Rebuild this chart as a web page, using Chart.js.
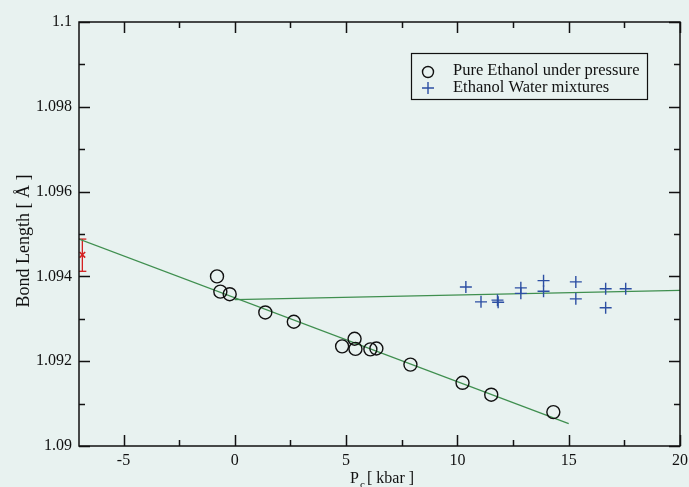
<!DOCTYPE html>
<html>
<head>
<meta charset="utf-8">
<script src="https://cdn.jsdelivr.net/npm/chart.js@4"></script>
<style>
  body { margin: 0; background: #e8f2f0; }
  canvas { display: block; }
</style>
</head>
<body>
<canvas id="bondChart" width="689" height="487"></canvas>
<script>
// Pure ethanol under pressure
const purePressure = [-0.80, -0.65, -0.23, 1.37, 2.65, 4.82, 5.38, 5.42, 6.09, 6.36, 7.89, 10.23, 11.52, 14.31];
const pureLength = [1.09400, 1.09364, 1.09358, 1.09315, 1.09293, 1.09235, 1.09253, 1.09229, 1.09228, 1.09230, 1.09192, 1.09149, 1.09121, 1.09080];

// Ethanol water mixtures
const mixPressure = [10.38, 11.06, 11.80, 11.83, 12.85, 12.85, 13.87, 13.87, 15.32, 15.32, 16.66, 16.66, 17.56];
const mixLength = [1.09375, 1.09340, 1.09344, 1.09339, 1.09373, 1.09360, 1.09390, 1.09365, 1.09387, 1.09347, 1.09371, 1.09326, 1.09371];

// fitted lines
const fitPureP = [-7, 15];
const fitPureL = [1.09488, 1.09053];
const fitMixP = [0, 20];
const fitMixL = [1.09345, 1.09367];

// reference value with error bar
const refP = -6.85;
const refL = 1.09451;
const refErr = [1.09412, 1.09488];

const xTicks = [-5, 0, 5, 10, 15, 20];
const xMinor = [-2.5, 2.5, 7.5, 12.5, 17.5];
const yTicks = [1.09, 1.092, 1.094, 1.096, 1.098, 1.1];
const yMinor = [1.091, 1.093, 1.095, 1.097, 1.099];

const serif = '"Liberation Serif", "DejaVu Serif", serif';
const toPts = (xs, ys) => xs.map((x, i) => ({ x: x, y: ys[i] }));

const framePlugin = {
    id: 'frame',
    beforeDraw(chart) {
        const ctx = chart.ctx;
        ctx.save();
        ctx.fillStyle = '#e8f2f0';
        ctx.fillRect(0, 0, chart.width, chart.height);
        ctx.restore();
    },
    afterDraw(chart) {
        const ctx = chart.ctx;
        const a = chart.chartArea;
        const xs = chart.scales.x;
        const ys = chart.scales.y;
        ctx.save();
        ctx.strokeStyle = '#111';
        ctx.lineWidth = 1.5;
        ctx.strokeRect(a.left, a.top, a.right - a.left, a.bottom - a.top);

        // inward ticks on all four sides
        const tickX = (v, len) => {
            const px = Math.round(xs.getPixelForValue(v)) + 0.5;
            ctx.beginPath();
            ctx.moveTo(px, a.bottom); ctx.lineTo(px, a.bottom - len);
            ctx.moveTo(px, a.top); ctx.lineTo(px, a.top + len);
            ctx.stroke();
        };
        const tickY = (v, len) => {
            const py = Math.round(ys.getPixelForValue(v)) + 0.5;
            ctx.beginPath();
            ctx.moveTo(a.left, py); ctx.lineTo(a.left + len, py);
            ctx.moveTo(a.right, py); ctx.lineTo(a.right - len, py);
            ctx.stroke();
        };
        xTicks.forEach(v => tickX(v, 11));
        xMinor.forEach(v => tickX(v, 6));
        yTicks.forEach(v => tickY(v, 11));
        yMinor.forEach(v => tickY(v, 6));

        // legend box
        const ds = chart.data.datasets;
        ctx.lineWidth = 1.2;
        ctx.strokeRect(411.5, 53.5, 236, 46);
        ctx.lineWidth = 1.4;
        ctx.beginPath();
        ctx.arc(428, 72, 5.5, 0, Math.PI * 2);
        ctx.stroke();
        ctx.strokeStyle = '#2c4fa3';
        ctx.beginPath();
        ctx.moveTo(422, 88); ctx.lineTo(434, 88);
        ctx.moveTo(428, 82); ctx.lineTo(428, 94);
        ctx.stroke();
        ctx.fillStyle = '#111';
        ctx.font = '16.5px ' + serif;
        ctx.textBaseline = 'middle';
        ctx.fillText(ds[0].label, 453, 71);
        ctx.fillText(ds[1].label, 453, 88);

        // axis titles
        ctx.font = '16px ' + serif;
        ctx.textBaseline = 'alphabetic';
        ctx.fillText('P', 350, 483);
        ctx.font = '11px ' + serif;
        ctx.fillText('c', 360, 488);
        ctx.font = '16px ' + serif;
        ctx.fillText('[ kbar ]', 367, 483);

        ctx.translate(29, 241);
        ctx.rotate(-Math.PI / 2);
        ctx.textAlign = 'center';
        ctx.font = '18px ' + serif;
        ctx.fillText('Bond Length [ Å ]', 0, 0);
        ctx.restore();
    }
};

const ctx = document.getElementById('bondChart').getContext('2d');
new Chart(ctx, {
    type: 'scatter',
    data: {
        datasets: [
            {
                label: 'Pure Ethanol under pressure',
                data: toPts(purePressure, pureLength),
                pointStyle: 'circle',
                pointRadius: 6.5,
                borderWidth: 1.4,
                borderColor: '#111',
                backgroundColor: 'rgba(0,0,0,0)'
            },
            {
                label: 'Ethanol Water mixtures',
                data: toPts(mixPressure, mixLength),
                pointStyle: 'cross',
                pointRadius: 6,
                borderWidth: 1.4,
                borderColor: '#2c4fa3'
            },
            {
                label: 'fit pure',
                data: toPts(fitPureP, fitPureL),
                showLine: true,
                pointRadius: 0,
                borderWidth: 1.3,
                borderColor: '#3f8f4f'
            },
            {
                label: 'fit mixtures',
                data: toPts(fitMixP, fitMixL),
                showLine: true,
                pointRadius: 0,
                borderWidth: 1.3,
                borderColor: '#3f8f4f'
            },
            {
                label: 'error',
                data: toPts([refP, refP], refErr),
                showLine: true,
                pointStyle: 'line',
                pointRadius: 4,
                borderWidth: 1.3,
                borderColor: '#d42020'
            },
            {
                label: 'reference',
                data: [{ x: refP, y: refL }],
                pointStyle: 'crossRot',
                pointRadius: 4,
                borderWidth: 1.6,
                borderColor: '#d42020'
            }
        ]
    },
    options: {
        responsive: false,
        animation: false,
        layout: { padding: { left: 0, right: 9, top: 22, bottom: 0 } },
        scales: {
            x: {
                type: 'linear',
                min: -7,
                max: 20,
                afterBuildTicks: s => { s.ticks = xTicks.map(v => ({ value: v })); },
                afterFit: s => { s.height = 41; s.paddingLeft = 0; s.paddingRight = 0; },
                grid: { display: false, drawTicks: false },
                border: { display: false },
                ticks: {
                    padding: 5,
                    color: '#111',
                    font: { family: serif, size: 16 },
                    maxRotation: 0
                }
            },
            y: {
                type: 'linear',
                min: 1.09,
                max: 1.1,
                afterBuildTicks: s => { s.ticks = yTicks.map(v => ({ value: v })); },
                afterFit: s => { s.width = 79; s.paddingTop = 0; s.paddingBottom = 0; },
                grid: { display: false, drawTicks: false },
                border: { display: false },
                ticks: {
                    padding: 7,
                    color: '#111',
                    font: { family: serif, size: 16 },
                    callback: v => String(Number(v.toFixed(3)))
                }
            }
        },
        plugins: {
            legend: { display: false },
            tooltip: { enabled: false }
        }
    },
    plugins: [framePlugin]
});
</script>
</body>
</html>
